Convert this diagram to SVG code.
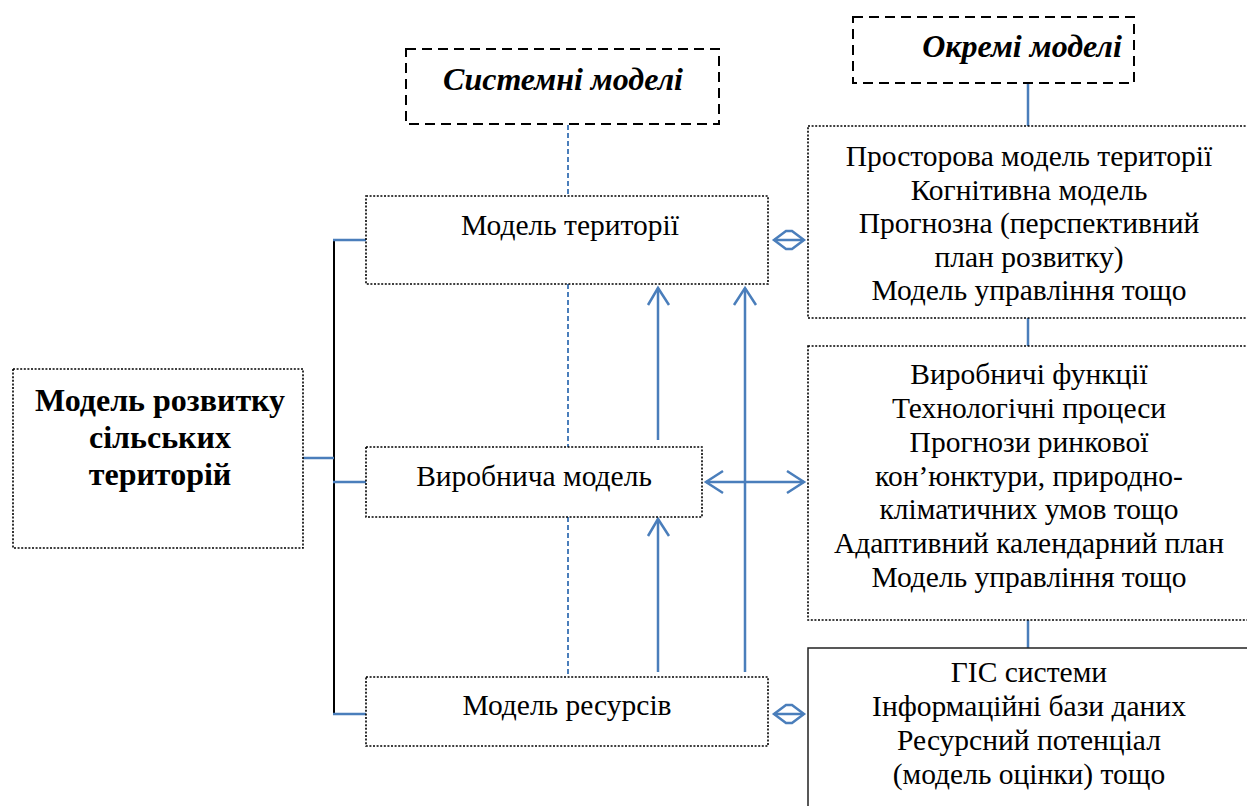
<svg xmlns="http://www.w3.org/2000/svg" width="1247" height="806" viewBox="0 0 1247 806">
<defs>
<style>
.dot{fill:#fff;stroke:#000;stroke-width:1.6;stroke-dasharray:2 1.6}
.dash{fill:#fff;stroke:#000;stroke-width:2;stroke-dasharray:10 6}
.solid{fill:#fff;stroke:#222;stroke-width:1.5}
.t{font-family:"Liberation Serif","Times New Roman",serif;font-size:29.5px;fill:#000;text-anchor:middle}
.b{font-family:"Liberation Serif","Times New Roman",serif;font-size:32px;font-weight:bold;fill:#000;text-anchor:middle}
.bi{font-family:"Liberation Serif","Times New Roman",serif;font-size:32px;font-weight:bold;font-style:italic;fill:#000;text-anchor:middle}
.bl{stroke:#4a7ebb;stroke-width:2.5;fill:none}
.bd{stroke:#4a7ebb;stroke-width:2;stroke-dasharray:5 3;fill:none}
</style>
</defs>
<rect width="1247" height="806" fill="#fff"/>
<g id="connectors">
<line class="bd" x1="568" y1="125" x2="568" y2="196"/>
<line class="bd" x1="568" y1="284" x2="568" y2="447"/>
<line class="bd" x1="568" y1="517" x2="568" y2="677"/>
<line class="bl" x1="1028" y1="83" x2="1028" y2="126"/>
<line class="bl" x1="1028" y1="318" x2="1028" y2="346"/>
<line class="bl" x1="1028" y1="620" x2="1028" y2="648"/>
<line x1="334" y1="240" x2="334" y2="715" stroke="#000" stroke-width="2"/>
<line class="bl" x1="333" y1="240" x2="366" y2="240"/>
<line class="bl" x1="333" y1="482" x2="366" y2="482"/>
<line class="bl" x1="333" y1="714" x2="366" y2="714"/>
<line class="bl" x1="303" y1="458" x2="334" y2="458"/>
<line class="bl" x1="658" y1="440" x2="658" y2="288"/>
<polyline class="bl" points="648,305 658,288 669,305"/>
<line class="bl" x1="745" y1="672" x2="745" y2="288"/>
<polyline class="bl" points="734,305 745,288 756,305"/>
<line class="bl" x1="658" y1="672" x2="658" y2="519"/>
<polyline class="bl" points="648,536 658,519 669,536"/>
<line class="bl" x1="706" y1="482" x2="804" y2="482"/>
<polyline class="bl" points="723,471 706,482 723,493"/>
<polyline class="bl" points="787,471 804,482 787,493"/>
<polygon class="bl" points="774,240 786,231 792,231 804,240 792,249 786,249"/>
<line class="bl" x1="774" y1="240" x2="804" y2="240"/>
<polygon class="bl" points="774,714 786,705 792,705 804,714 792,723 786,723"/>
<line class="bl" x1="774" y1="714" x2="804" y2="714"/>
</g>
<g id="n-main">
<rect class="dot" x="13" y="369" width="290" height="179"/>
<text class="b" x="160" y="411">Модель розвитку</text>
<text class="b" x="160" y="448">сільських</text>
<text class="b" x="160" y="485">територій</text>
</g>
<g id="n-system">
<rect class="dash" x="406" y="49" width="313" height="75"/>
<text class="bi" x="563" y="90">Системні моделі</text>
</g>
<g id="n-separate">
<rect class="dash" x="853" y="17" width="281" height="66"/>
<text class="bi" x="1022" y="57">Окремі моделі</text>
</g>
<g id="n-territory">
<rect class="dot" x="366" y="196" width="402" height="88"/>
<text class="t" x="570" y="235">Модель території</text>
</g>
<g id="n-production">
<rect class="dot" x="366" y="447" width="336" height="70"/>
<text class="t" x="534" y="486">Виробнича модель</text>
</g>
<g id="n-resources">
<rect class="dot" x="366" y="677" width="402" height="69"/>
<text class="t" x="567" y="715">Модель ресурсів</text>
</g>
<g id="n-box1">
<rect class="dot" x="808" y="126" width="445" height="192"/>
<text class="t" x="1029" y="166">Просторова модель території</text>
<text class="t" x="1029" y="199.5">Когнітивна модель</text>
<text class="t" x="1029" y="233">Прогнозна (перспективний</text>
<text class="t" x="1029" y="266.5">план розвитку)</text>
<text class="t" x="1029" y="300">Модель управління тощо</text>
</g>
<g id="n-box2">
<rect class="dot" x="808" y="346" width="445" height="274"/>
<text class="t" x="1029" y="384">Виробничі функції</text>
<text class="t" x="1029" y="418">Технологічні процеси</text>
<text class="t" x="1029" y="452">Прогнози ринкової</text>
<text class="t" x="1029" y="486">кон’юнктури, природно-</text>
<text class="t" x="1029" y="519">кліматичних умов тощо</text>
<text class="t" x="1029" y="553">Адаптивний календарний план</text>
<text class="t" x="1029" y="587">Модель управління тощо</text>
</g>
<g id="n-box3">
<rect class="solid" x="808" y="648" width="445" height="170"/>
<text class="t" x="1029" y="682">ГІС системи</text>
<text class="t" x="1029" y="716">Інформаційні бази даних</text>
<text class="t" x="1029" y="750">Ресурсний потенціал</text>
<text class="t" x="1029" y="784">(модель оцінки) тощо</text>
</g>
</svg>
